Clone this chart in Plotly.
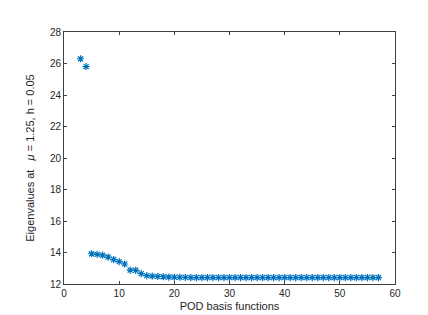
import plotly.graph_objects as go

basis = list(range(3, 58))
eig_head = [26.3, 25.8, 13.92, 13.88, 13.83, 13.71, 13.55, 13.42, 13.27, 12.88, 12.87, 12.66,
            12.53, 12.50, 12.48, 12.46, 12.44, 12.43, 12.43, 12.42]
eig_tail = [12.41] * (len(basis) - len(eig_head))
eigvals = eig_head + eig_tail

x_ticks = [0, 10, 20, 30, 40, 50, 60]
y_ticks = [12, 14, 16, 18, 20, 22, 24, 26, 28]

fig = go.Figure()
fig.add_trace(go.Scatter(
    x=basis, y=eigvals, mode="markers",
    marker=dict(symbol="asterisk-open", size=6, color="#0072BD",
                line=dict(color="#0072BD", width=1.2)),
    showlegend=False,
))

axis_common = dict(
    showline=True, linecolor="#404040", linewidth=0.7, mirror="ticks",
    ticks="inside", ticklen=3, tickcolor="#404040", tickwidth=0.7,
    showgrid=False, zeroline=False,
    tickfont=dict(family="Liberation Sans, Arial, sans-serif", size=10, color="#262626"),
)

fig.update_layout(
    width=428, height=315,
    margin=dict(l=56, r=41, t=24, b=35),
    paper_bgcolor="white", plot_bgcolor="white",
    font=dict(family="Liberation Sans, Arial, sans-serif", size=10, color="#262626"),
    xaxis=dict(range=[0, 60], tickvals=x_ticks,
               title=dict(text="POD basis functions", standoff=4,
                          font=dict(size=11, color="#262626")),
               **axis_common),
    yaxis=dict(range=[12, 28], tickvals=y_ticks,
               title=dict(text="Eigenvalues at   <i>μ</i> = 1.25, h = 0.05", standoff=13,
                          font=dict(size=11, color="#262626")),
               **axis_common),
)

fig.write_html("out.html")
